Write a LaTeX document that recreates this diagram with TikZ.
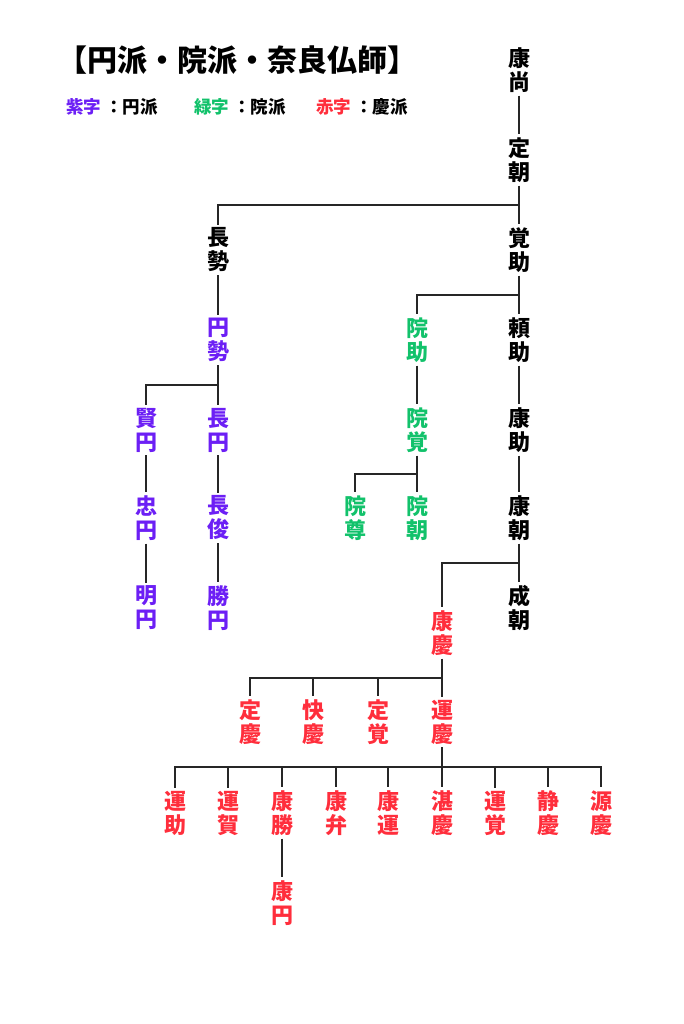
\documentclass[tikz,border=0pt]{standalone}
\usepackage{fontspec}
\setmainfont{Noto Sans CJK JP}
\usetikzlibrary{calc}
\definecolor{enpurple}{HTML}{6C1FF5}
\definecolor{ingreen}{HTML}{12C26B}
\definecolor{keired}{HTML}{FF2E3C}

\begin{document}
\begin{tikzpicture}[
  x=1pt, y=-1pt,
  busshi/.style={font=\bfseries\fontsize{22}{24}\selectfont, align=center, inner sep=3pt},
  enha/.style={busshi, text=enpurple},
  inha/.style={busshi, text=ingreen},
  keiha/.style={busshi, text=keired},
  kuro/.style={busshi, text=black},
  legend/.style={font=\bfseries\fontsize{17.5}{19}\selectfont, anchor=west, inner sep=0pt},
  link/.style={draw=black!85, line width=1.8pt}
]
  \fill[white] (0,0) rectangle (683,1024);
  \useasboundingbox (0,0) rectangle (683,1024);

  % Title and legend
  \node[font=\bfseries\fontsize{30}{32}\selectfont, anchor=west, inner sep=0pt] (title) at (57,60) {【円派・院派・奈良仏師】};
  \node[legend] (leg1) at (66,107) {{\color{enpurple}紫字}\hspace{4pt}：円派};
  \node[legend] (leg2) at (194,107) {{\color{ingreen}緑字}\hspace{4pt}：院派};
  \node[legend] (leg3) at (316,107) {{\color{keired}赤字}\hspace{4pt}：慶派};

  % Main line
  \node[kuro] (kousho)  at (519,70)  {康\\尚};
  \node[kuro] (jouchou) at (519,160) {定\\朝};
  \node[kuro] (chousei) at (218,250) {長\\勢};
  \node[kuro] (kakujo)  at (519,250) {覚\\助};

  % En-ha
  \node[enha] (ensei)    at (218,340) {円\\勢};
  \node[enha] (kenen)    at (146,430) {賢\\円};
  \node[enha] (chouen)   at (218,430) {長\\円};
  \node[enha] (chuuen)   at (146,518) {忠\\円};
  \node[enha] (choushun) at (218,518) {長\\俊};
  \node[enha] (myouen)   at (146,608) {明\\円};
  \node[enha] (shouen)   at (218,608) {勝\\円};

  % In-ha
  \node[inha] (injo)   at (417,340) {院\\助};
  \node[inha] (ingaku) at (417,430) {院\\覚};
  \node[inha] (inson)  at (355,518) {院\\尊};
  \node[inha] (inchou) at (417,518) {院\\朝};

  % Nara busshi
  \node[kuro] (raijo)   at (519,340) {頼\\助};
  \node[kuro] (koujo)   at (519,430) {康\\助};
  \node[kuro] (kouchou) at (519,518) {康\\朝};
  \node[kuro] (seichou) at (519,608) {成\\朝};

  % Kei-ha
  \node[keiha] (koukei)  at (442,633) {康\\慶};
  \node[keiha] (joukei)  at (250,722) {定\\慶};
  \node[keiha] (kaikei)  at (313,722) {快\\慶};
  \node[keiha] (joukaku) at (378,722) {定\\覚};
  \node[keiha] (unkei)   at (442,722) {運\\慶};
  \node[keiha] (unjo)    at (175,813) {運\\助};
  \node[keiha] (unga)    at (228,813) {運\\賀};
  \node[keiha] (koushou) at (282,813) {康\\勝};
  \node[keiha] (kouben)  at (336,813) {康\\弁};
  \node[keiha] (kouun)   at (388,813) {康\\運};
  \node[keiha] (tankei)  at (442,813) {湛\\慶};
  \node[keiha] (unkaku)  at (495,813) {運\\覚};
  \node[keiha] (seikei)  at (548,813) {静\\慶};
  \node[keiha] (genkei)  at (601,813) {源\\慶};
  \node[keiha] (kouen)   at (282,903) {康\\円};

  % Branch points
  \coordinate (b1) at ($(jouchou.south)!0.5!(kakujo.north)$);
  \coordinate (b2) at ($(kakujo.south)!0.5!(raijo.north)$);
  \coordinate (b3) at ($(ensei.south)!0.5!(chouen.north)$);
  \coordinate (b4) at ($(ingaku.south)!0.5!(inchou.north)$);
  \coordinate (b5) at ($(kouchou.south)!0.5!(seichou.north)$);
  \coordinate (b6) at ($(koukei.south)!0.5!(unkei.north)$);
  \coordinate (b7) at ($(unkei.south)!0.5!(tankei.north)$);

  % Lines
  \draw[link] (kousho) -- (jouchou);
  \draw[link] (jouchou) -- (kakujo);
  \draw[link] (b1) -| (chousei.north);
  \draw[link] (chousei) -- (ensei);
  \draw[link] (kakujo) -- (raijo);
  \draw[link] (b2) -| (injo.north);
  \draw[link] (ensei) -- (chouen);
  \draw[link] (b3) -| (kenen.north);
  \draw[link] (kenen) -- (chuuen);
  \draw[link] (chuuen) -- (myouen);
  \draw[link] (chouen) -- (choushun);
  \draw[link] (choushun) -- (shouen);
  \draw[link] (injo) -- (ingaku);
  \draw[link] (ingaku) -- (inchou);
  \draw[link] (b4) -| (inson.north);
  \draw[link] (raijo) -- (koujo);
  \draw[link] (koujo) -- (kouchou);
  \draw[link] (kouchou) -- (seichou);
  \draw[link] (b5) -| (koukei.north);
  \draw[link] (koukei) -- (unkei);
  \foreach \n in {joukei,kaikei,joukaku}
    \draw[link] (b6) -| (\n.north);
  \draw[link] (unkei) -- (tankei);
  \foreach \n in {unjo,unga,koushou,kouben,kouun,unkaku,seikei,genkei}
    \draw[link] (b7) -| (\n.north);
  \draw[link] (koushou) -- (kouen);
\end{tikzpicture}
\end{document}
